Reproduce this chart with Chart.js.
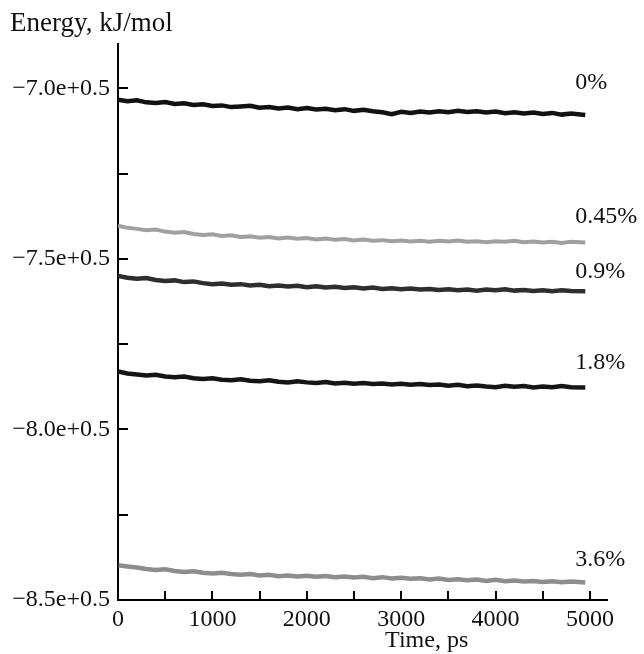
<!DOCTYPE html>
<html>
<head>
<meta charset="utf-8">
<script src="https://cdn.jsdelivr.net/npm/chart.js@4"></script>
<style>
  html, body { margin: 0; padding: 0; background: #fff; }
  #wrap { width: 644px; height: 654px; }
</style>
</head>
<body>
<div id="wrap"><canvas id="myChart" width="644" height="654"></canvas></div>
<script>
// time axis (ps)
const times = [0, 100, 200, 300, 400, 500, 600, 700, 800, 900,
  1000, 1100, 1200, 1300, 1400, 1500, 1600, 1700, 1800, 1900,
  2000, 2100, 2200, 2300, 2400, 2500, 2600, 2700, 2800, 2900,
  3000, 3100, 3200, 3300, 3400, 3500, 3600, 3700, 3800, 3900,
  4000, 4100, 4200, 4300, 4400, 4500, 4600, 4700, 4800, 4950];

const seriesNames = ["0%", "0.45%", "0.9%", "1.8%", "3.6%"];

// tick positions (labels only on the round ones)
const xTicks = [0, 500, 1000, 1500, 2000, 2500, 3000, 3500, 4000, 4500, 5000];
const yTicks = [-8.5, -8.25, -8.0, -7.75, -7.5, -7.25, -7.0];
const yTickLabels = { "-8.5": "\u22128.5e+0.5", "-8": "\u22128.0e+0.5", "-7.5": "\u22127.5e+0.5", "-7": "\u22127.0e+0.5" };

// energy values
const energy0 = [-7.033, -7.038, -7.035, -7.041, -7.043, -7.040, -7.046, -7.044, -7.049, -7.047,
  -7.052, -7.050, -7.055, -7.053, -7.051, -7.057, -7.055, -7.059, -7.056, -7.061,
  -7.058, -7.062, -7.060, -7.064, -7.061, -7.066, -7.063, -7.067, -7.070, -7.076,
  -7.069, -7.072, -7.068, -7.071, -7.067, -7.070, -7.066, -7.069, -7.067, -7.071,
  -7.068, -7.073, -7.070, -7.074, -7.071, -7.075, -7.072, -7.077, -7.074, -7.078];
const energy045 = [-7.403, -7.409, -7.412, -7.416, -7.414, -7.420, -7.423, -7.421, -7.427, -7.430,
  -7.428, -7.433, -7.431, -7.436, -7.434, -7.438, -7.436, -7.440, -7.437, -7.441,
  -7.439, -7.443, -7.440, -7.444, -7.442, -7.446, -7.443, -7.447, -7.445, -7.448,
  -7.446, -7.449, -7.447, -7.450, -7.447, -7.449, -7.446, -7.450, -7.448, -7.451,
  -7.448, -7.450, -7.447, -7.451, -7.449, -7.452, -7.450, -7.453, -7.450, -7.452];
const energy09 = [-7.550, -7.555, -7.558, -7.556, -7.562, -7.565, -7.563, -7.568, -7.566, -7.571,
  -7.574, -7.572, -7.576, -7.574, -7.578, -7.576, -7.580, -7.578, -7.581, -7.579,
  -7.583, -7.580, -7.584, -7.582, -7.585, -7.583, -7.587, -7.584, -7.588, -7.586,
  -7.589, -7.587, -7.590, -7.588, -7.591, -7.589, -7.592, -7.590, -7.593, -7.590,
  -7.592, -7.589, -7.593, -7.591, -7.594, -7.592, -7.595, -7.592, -7.594, -7.595];
const energy18 = [-7.830, -7.836, -7.839, -7.842, -7.840, -7.845, -7.847, -7.845, -7.850, -7.852,
  -7.850, -7.854, -7.856, -7.853, -7.857, -7.859, -7.856, -7.860, -7.862, -7.859,
  -7.862, -7.864, -7.861, -7.865, -7.863, -7.866, -7.864, -7.867, -7.865, -7.868,
  -7.866, -7.869, -7.867, -7.870, -7.868, -7.872, -7.869, -7.873, -7.871, -7.874,
  -7.876, -7.872, -7.875, -7.873, -7.877, -7.874, -7.876, -7.873, -7.876, -7.877];
const energy36 = [-8.398, -8.402, -8.405, -8.409, -8.412, -8.410, -8.415, -8.418, -8.416, -8.420,
  -8.422, -8.420, -8.424, -8.426, -8.424, -8.428, -8.426, -8.430, -8.428, -8.431,
  -8.429, -8.432, -8.430, -8.433, -8.431, -8.434, -8.432, -8.436, -8.433, -8.437,
  -8.435, -8.438, -8.436, -8.440, -8.437, -8.441, -8.439, -8.442, -8.440, -8.444,
  -8.441, -8.445, -8.443, -8.446, -8.444, -8.447, -8.445, -8.448, -8.446, -8.449];

const allEnergy = [energy0, energy045, energy09, energy18, energy36];
const lineColors = ["#111111", "#a0a0a0", "#2e2e2e", "#151515", "rgba(80,80,80,0.65)"];
const lineWidths = [4.5, 4, 4.5, 4.5, 4.5];
const labelLift = [32, 26, 20, 25, 23];

const serif = "'Liberation Serif', 'DejaVu Serif', serif";
const toPoints = (vals) => vals.map((v, i) => ({ x: times[i], y: v }));

// inward tick marks, series labels and axis captions
const decorations = {
  id: "decorations",
  afterDraw(chart) {
    const c = chart.ctx;
    const xs = chart.scales.x;
    const ys = chart.scales.y;
    const area = chart.chartArea;
    c.save();
    c.strokeStyle = "#000";
    c.lineWidth = 2;
    ys.ticks.forEach((t) => {
      const py = Math.round(ys.getPixelForValue(t.value));
      if (py < area.bottom - 2) {
        c.beginPath();
        c.moveTo(area.left, py);
        c.lineTo(area.left + 10, py);
        c.stroke();
      }
    });
    xs.ticks.forEach((t) => {
      const px = Math.round(xs.getPixelForValue(t.value));
      if (px > area.left + 2) {
        c.beginPath();
        c.moveTo(px, area.bottom);
        c.lineTo(px, area.bottom - 9);
        c.stroke();
      }
    });
    c.fillStyle = "#111";
    c.font = "24px " + serif;
    c.textBaseline = "middle";
    c.textAlign = "left";
    chart.data.datasets.forEach((ds, i) => {
      const last = ds.data[ds.data.length - 1];
      const px = xs.getPixelForValue(last.x) - 10;
      const py = ys.getPixelForValue(last.y) - labelLift[i];
      c.fillText(ds.label, px, py);
    });
    c.textAlign = "center";
    c.fillText("Time, ps", xs.getPixelForValue(3270), 641);
    c.textAlign = "left";
    c.font = "27px " + serif;
    c.fillText("Energy, kJ/mol", 10, 24);
    c.restore();
  },
};

const ctx = document.getElementById("myChart");
const myChart = new Chart(ctx, {
  type: "line",
  data: {
    datasets: seriesNames.map((name, i) => ({
      label: name,
      data: toPoints(allEnergy[i]),
      borderColor: lineColors[i],
      borderWidth: lineWidths[i],
      pointRadius: 0,
      tension: 0,
      fill: false,
    })),
  },
  options: {
    responsive: false,
    animation: false,
    layout: { padding: { top: 44, right: 37, left: 0, bottom: 0 } },
    plugins: {
      legend: { display: false },
      tooltip: { enabled: false },
    },
    scales: {
      x: {
        type: "linear",
        min: 0,
        max: 5180,
        grid: { display: true, drawOnChartArea: false, drawTicks: false },
        border: { display: true, color: "#000", width: 2 },
        afterBuildTicks: (s) => { s.ticks = xTicks.map((v) => ({ value: v })); },
        ticks: {
          autoSkip: false,
          maxRotation: 0,
          padding: 5,
          color: "#111",
          font: { family: serif, size: 24 },
          callback: (v) => (v % 1000 === 0 ? String(v) : ""),
        },
        afterFit: (s) => { s.height = 54; },
      },
      y: {
        type: "linear",
        min: -8.5,
        max: -6.87,
        grid: { display: true, drawOnChartArea: false, drawTicks: false },
        border: { display: true, color: "#000", width: 2 },
        afterBuildTicks: (s) => { s.ticks = yTicks.map((v) => ({ value: v })); },
        ticks: {
          autoSkip: false,
          padding: 8,
          color: "#111",
          font: { family: serif, size: 24 },
          callback: (v) => yTickLabels[String(v)] || "",
        },
        afterFit: (s) => { s.width = 118; },
      },
    },
  },
  plugins: [decorations],
});
</script>
</body>
</html>
